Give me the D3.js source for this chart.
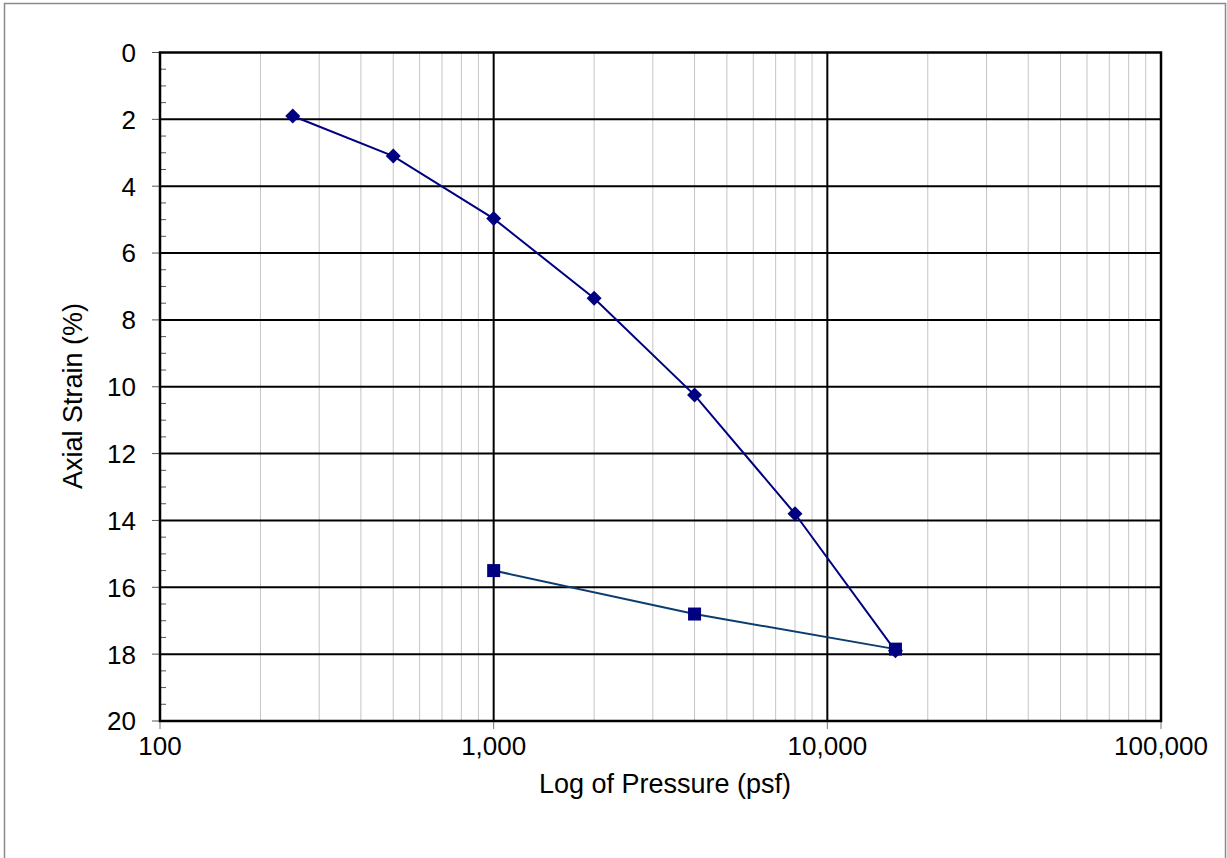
<!DOCTYPE html>
<html>
<head>
<meta charset="utf-8">
<script src="https://cdn.jsdelivr.net/npm/d3@7"></script>
<style>
  body { margin: 0; background: #fff; }
  text { font-family: Arial, 'Liberation Sans', Helvetica, sans-serif; fill: #000; }
</style>
</head>
<body>
<div class="graph"><svg></svg></div>
<script>
// loading curve (diamonds)
const loadPressure = [250, 500, 1000, 2000, 4000, 8000, 16000]
const loadStrain = [1.9, 3.1, 4.97, 7.35, 10.25, 13.8, 17.9]
// unloading curve (squares)
const unloadPressure = [1000, 4000, 16000]
const unloadStrain = [15.5, 16.8, 17.85]

const xTicks = [100, 1000, 10000, 100000]
const yTicks = [0, 2, 4, 6, 8, 10, 12, 14, 16, 18, 20]

const width = 1227
const height = 858
const margin = { top: 52.5, right: 66, bottom: 137, left: 160 }

const svg = d3.select('.graph').select('svg')
  .attr('width', width)
  .attr('height', height)

// outer frame
svg.append('rect')
  .attr('x', 4.5).attr('y', 3.5)
  .attr('width', width - 6).attr('height', height)
  .attr('fill', 'none')
  .attr('stroke', '#8a8a8a')
  .attr('stroke-width', 1.5)

const x = d3.scaleLog()
  .domain([100, 100000])
  .range([margin.left, width - margin.right])

const y = d3.scaleLinear()
  .domain([0, 20])
  .range([margin.top, height - margin.bottom])

const g = svg.append('g')

// minor vertical grid
const minor = []
for (let d = 100; d < 100000; d *= 10) {
  for (let k = 2; k <= 9; k++) minor.push(d * k)
}
g.selectAll('.vminor')
  .data(minor)
  .enter().append('line')
  .attr('x1', d => x(d)).attr('x2', d => x(d))
  .attr('y1', y(0)).attr('y2', y(20))
  .attr('stroke', '#c4c4c4')
  .attr('stroke-width', 1)

// major vertical grid
g.selectAll('.vmajor')
  .data(xTicks.slice(1, -1))
  .enter().append('line')
  .attr('x1', d => x(d)).attr('x2', d => x(d))
  .attr('y1', y(0)).attr('y2', y(20))
  .attr('stroke', '#000')
  .attr('stroke-width', 2)

// horizontal grid
g.selectAll('.hmajor')
  .data(yTicks.slice(1, -1))
  .enter().append('line')
  .attr('x1', x(100)).attr('x2', x(100000))
  .attr('y1', d => y(d)).attr('y2', d => y(d))
  .attr('stroke', '#000')
  .attr('stroke-width', 2)

// y minor ticks (inside)
const yMinor = d3.range(0.5, 20, 0.5).filter(v => v % 2 !== 0)
g.selectAll('.yminor')
  .data(yMinor)
  .enter().append('line')
  .attr('x1', x(100)).attr('x2', x(100) + 6)
  .attr('y1', d => y(d)).attr('y2', d => y(d))
  .attr('stroke', '#555')
  .attr('stroke-width', 1)

// y major ticks (outside)
g.selectAll('.ymajor')
  .data(yTicks)
  .enter().append('line')
  .attr('x1', x(100) - 8).attr('x2', x(100))
  .attr('y1', d => y(d)).attr('y2', d => y(d))
  .attr('stroke', '#555')
  .attr('stroke-width', 1)

// x major ticks (outside)
g.selectAll('.xmajor')
  .data(xTicks)
  .enter().append('line')
  .attr('x1', d => x(d)).attr('x2', d => x(d))
  .attr('y1', y(20)).attr('y2', y(20) + 8)
  .attr('stroke', '#777')
  .attr('stroke-width', 1)

// plot frame
g.append('rect')
  .attr('x', x(100)).attr('y', y(0))
  .attr('width', x(100000) - x(100))
  .attr('height', y(20) - y(0))
  .attr('fill', 'none')
  .attr('stroke', '#000')
  .attr('stroke-width', 2.5)

// tick labels
g.selectAll('.ylabel')
  .data(yTicks)
  .enter().append('text')
  .attr('x', x(100) - 24)
  .attr('y', d => y(d))
  .attr('dy', '0.36em')
  .attr('text-anchor', 'end')
  .attr('font-size', 26)
  .text(d => d)

const fmt = d3.format(',')
g.selectAll('.xlabel')
  .data(xTicks)
  .enter().append('text')
  .attr('x', d => x(d))
  .attr('y', y(20) + 34)
  .attr('text-anchor', 'middle')
  .attr('font-size', 26)
  .text(d => fmt(d))

// axis titles
g.append('text')
  .attr('x', 665)
  .attr('y', 793)
  .attr('text-anchor', 'middle')
  .attr('font-size', 27)
  .text('Log of Pressure (psf)')

g.append('text')
  .attr('transform', 'translate(82, 396) rotate(-90)')
  .attr('text-anchor', 'middle')
  .attr('font-size', 27)
  .text('Axial Strain (%)')

// series
const loadData = loadPressure.map((p, i) => [p, loadStrain[i]])
const unloadData = unloadPressure.map((p, i) => [p, unloadStrain[i]])
const line = d3.line().x(d => x(d[0])).y(d => y(d[1]))

g.append('path')
  .datum(unloadData)
  .attr('d', line)
  .attr('fill', 'none')
  .attr('stroke', '#0b3c6e')
  .attr('stroke-width', 2)

g.append('path')
  .datum(loadData)
  .attr('d', line)
  .attr('fill', 'none')
  .attr('stroke', '#000080')
  .attr('stroke-width', 2)

g.selectAll('.sq')
  .data(unloadData)
  .enter().append('rect')
  .attr('x', d => x(d[0]) - 6.5)
  .attr('y', d => y(d[1]) - 6.5)
  .attr('width', 13).attr('height', 13)
  .attr('fill', '#000080')

g.selectAll('.dia')
  .data(loadData)
  .enter().append('path')
  .attr('transform', d => `translate(${x(d[0])}, ${y(d[1])})`)
  .attr('d', 'M0,-7.5L7.5,0L0,7.5L-7.5,0Z')
  .attr('fill', '#000080')
</script>
</body>
</html>
